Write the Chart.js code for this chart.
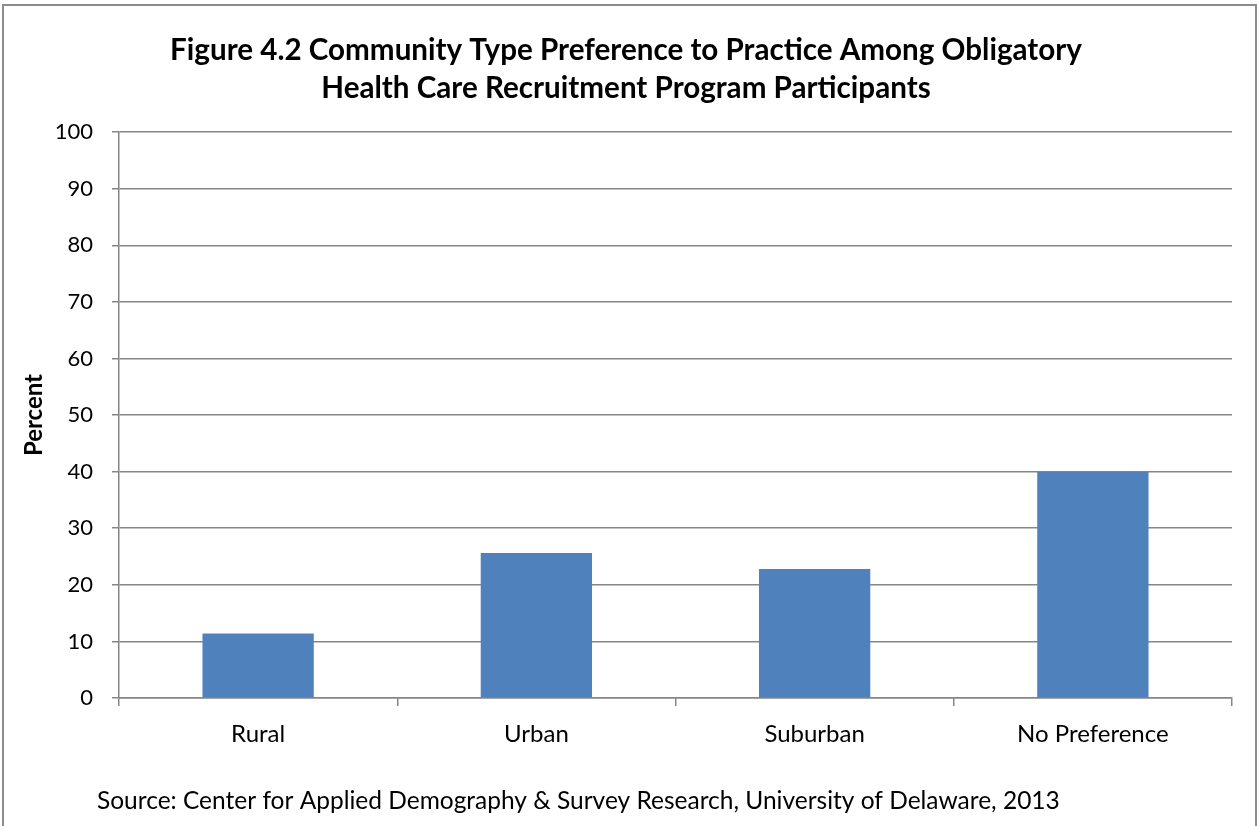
<!DOCTYPE html>
<html>
<head>
<meta charset="utf-8">
<script src="https://cdn.jsdelivr.net/npm/chart.js@4"></script>
<style>
  html, body { margin: 0; padding: 0; background: #fff; }
  #frame {
    position: absolute; left: 2px; top: 4px; width: 1251px; height: 830px;
    border: 2px solid #8c8c8c; border-bottom: none;
  }
  #wrap { position: absolute; left: 0; top: 0; width: 1259px; height: 826px; }
</style>
</head>
<body>
<div id="frame"></div>
<div id="wrap"><canvas id="chart1" width="1259" height="826"></canvas></div>
<script>
// community type preference, percent of participants
const categories = ["Rural", "Urban", "Suburban", "No Preference"];
const percentValues = [11.4, 25.6, 22.8, 40];
const yTicks = [0, 10, 20, 30, 40, 50, 60, 70, 80, 90, 100];

const titleLines = [
  "Figure 4.2 Community Type Preference to Practice Among Obligatory",
  "Health Care Recruitment Program Participants"
];
const sourceNote = "Source: Center for Applied Demography & Survey Research, University of Delaware, 2013";

const FONT = "Lato, 'Open Sans', sans-serif";
const GRID = "#868686";

// source line under the axis
const sourcePlugin = {
  id: "sourceNote",
  afterDraw(chart) {
    const c = chart.ctx;
    c.save();
    c.font = "24.5px " + FONT;
    c.fillStyle = "#000";
    c.textAlign = "left";
    c.textBaseline = "middle";
    c.fillText(sourceNote, 97, 801);
    c.restore();
  }
};

const ctx = document.getElementById("chart1");
new Chart(ctx, {
  type: "bar",
  data: {
    labels: categories,
    datasets: [
      {
        label: "Percent",
        data: percentValues,
        backgroundColor: "#4f81bd",
        borderWidth: 0,
        barPercentage: 0.4,
        categoryPercentage: 1,
      },
    ],
  },
  options: {
    responsive: false,
    animation: false,
    devicePixelRatio: 1,
    layout: {
      padding: { left: 20, right: 27, top: 31, bottom: 0 }
    },
    plugins: {
      legend: { display: false },
      tooltip: { enabled: false },
      title: {
        display: true,
        text: titleLines,
        color: "#000",
        font: { family: FONT, size: 29.6, weight: "bold", lineHeight: 1.285 },
        padding: { top: 0, bottom: 25 }
      },
    },
    scales: {
      x: {
        afterFit(scale) { scale.height = 128; },
        grid: {
          offset: true,
          drawOnChartArea: false,
          drawTicks: true,
          tickLength: 8,
          color: GRID,
          lineWidth: 1.5,
        },
        border: { color: GRID, width: 1.5 },
        ticks: {
          color: "#000",
          padding: 14,
          font: { family: FONT, size: 24 },
        },
      },
      y: {
        min: 0,
        max: 100,
        afterFit(scale) { scale.width = 99; },
        afterBuildTicks(scale) { scale.ticks = yTicks.map(v => ({ value: v })); },
        grid: {
          color: GRID,
          lineWidth: 1.5,
          tickLength: 7,
        },
        border: { color: GRID, width: 1.5 },
        ticks: {
          color: "#000",
          padding: 19,
          font: { family: FONT, size: 22 },
        },
        title: {
          display: true,
          text: "Percent",
          color: "#000",
          font: { family: FONT, size: 24, weight: "bold" },
          padding: { top: 0, bottom: 0 },
        },
      },
    },
  },
  plugins: [sourcePlugin],
});
</script>
</body>
</html>
